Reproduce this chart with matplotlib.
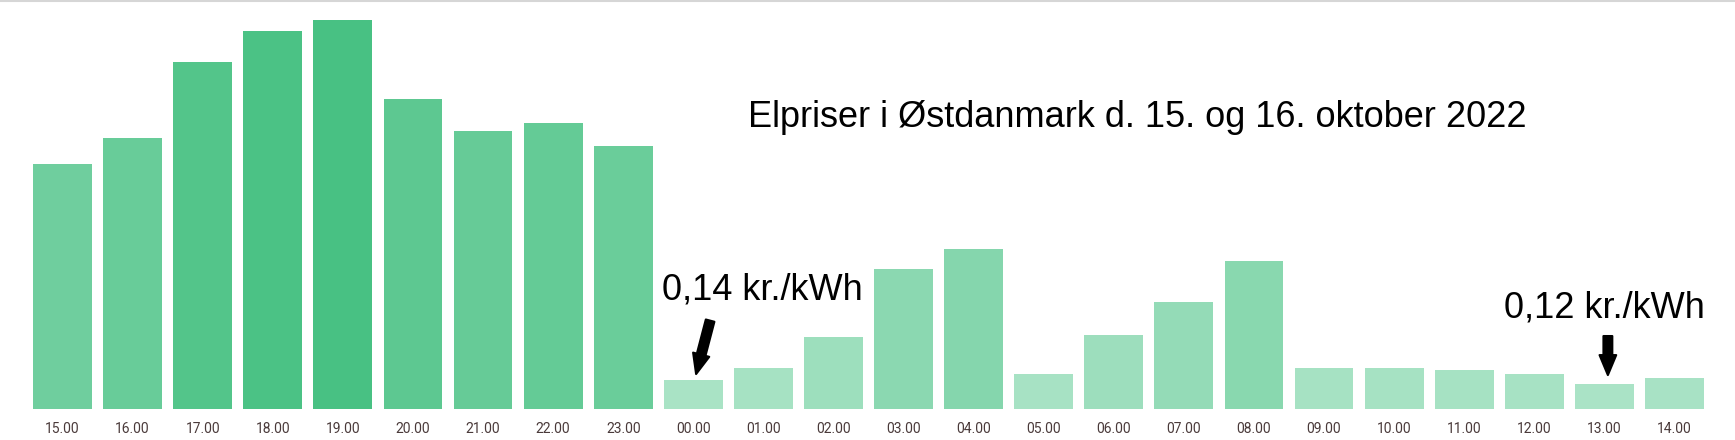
import matplotlib.pyplot as plt
import matplotlib as mpl
from matplotlib.colors import LinearSegmentedColormap, Normalize

mpl.rcParams['font.family'] = ['Roboto', 'DejaVu Sans']

hours = ['15.00', '16.00', '17.00', '18.00', '19.00', '20.00', '21.00', '22.00',
         '23.00', '00.00', '01.00', '02.00', '03.00', '04.00', '05.00', '06.00',
         '07.00', '08.00', '09.00', '10.00', '11.00', '12.00', '13.00', '14.00']
prices = [1.19, 1.32, 1.69, 1.84, 1.89, 1.51, 1.35, 1.39, 1.28, 0.14, 0.20, 0.35,
          0.68, 0.78, 0.17, 0.36, 0.52, 0.72, 0.20, 0.20, 0.19, 0.17, 0.12, 0.15]

title = 'Elpriser i Østdanmark d. 15. og 16. oktober 2022'

# light -> dark green depending on price
cmap = LinearSegmentedColormap.from_list('gr', ['#aae3c6', '#48c183'])
norm = Normalize(vmin=min(prices), vmax=max(prices))
colors = [cmap(norm(p)) for p in prices]

fig = plt.figure(figsize=(17.35, 4.4), dpi=100, facecolor='white')
ax = fig.add_axes([27.5 / 1735, 31 / 440, 1682 / 1735, 407 / 440])

x = list(range(len(hours)))
ax.bar(x, prices, width=0.84, color=colors)
ax.set_xlim(-0.5, len(hours) - 0.5)
ax.set_ylim(0, 1.98)
ax.set_xticks(x)
ax.set_xticklabels(hours, fontsize=10, color='#4a3a3a')
ax.tick_params(axis='x', length=0, pad=9)
ax.set_yticks([])
for s in ax.spines.values():
    s.set_visible(False)

# grey line at top of image
fig.add_artist(plt.Line2D([0, 1], [0.998, 0.998], color='#d6d6d6', lw=1.5))

ax.text(15.33, 1.42, title, fontsize=26, family='Liberation Sans', ha='center', va='center')

arrow = dict(arrowstyle='simple,head_length=0.36,head_width=0.3,tail_width=0.16',
             mutation_scale=40, color='k', lw=1.5, shrinkA=0, shrinkB=0)

ax.text(9.98, 0.578, '0,14 kr./kWh', fontsize=26, family='Liberation Sans', ha='center', va='center')
ax.annotate('', xy=(9.04, 0.17), xytext=(9.24, 0.43), arrowprops=arrow)

ax.text(22.0, 0.493, '0,12 kr./kWh', fontsize=26, family='Liberation Sans', ha='center', va='center')
ax.annotate('', xy=(22.05, 0.165), xytext=(22.05, 0.355), arrowprops=arrow)

fig.savefig('out.png', dpi=100, facecolor='white')
